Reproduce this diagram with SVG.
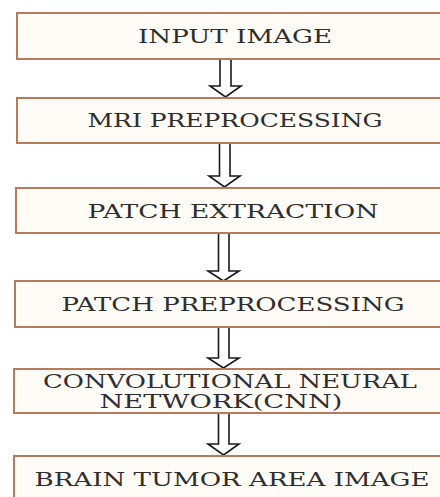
<svg xmlns="http://www.w3.org/2000/svg" width="440" height="497" viewBox="0 0 440 497">
<style>
.box{fill:#fffbf7;stroke:#b97a5c;stroke-width:2}
.t{font-family:"DejaVu Serif","Liberation Serif",serif;fill:#2e2e2e;text-anchor:middle;font-size:18.5px}
.arr{fill:#ffffff;stroke:#1a1a1a;stroke-width:1.6;stroke-linejoin:miter}
</style>
<rect width="440" height="497" fill="#ffffff"/>
<g id="connectors">
<path class="arr" d="M220,60 V86 H210 L225.5,97 L241,86 H231 V60"/>
<path class="arr" d="M219.5,144 V176 H209 L224.5,187 L240,176 H230 V144"/>
<path class="arr" d="M218.5,234 V271 H208 L223.5,281 L239,271 H229 V234"/>
<path class="arr" d="M218.5,328 V358 H208 L223.5,368 L239,358 H229 V328"/>
<path class="arr" d="M218.5,414 V444 H208 L223.5,455 L239,444 H229 V414"/>
</g>
<g id="n1"><rect class="box" x="17" y="13" width="440" height="46"/><text class="t" x="235" y="43" font-size="16.5" textLength="194" lengthAdjust="spacingAndGlyphs">INPUT IMAGE</text></g>
<g id="n2"><rect class="box" x="17" y="98" width="440" height="45"/><text class="t" x="235" y="127" textLength="295" lengthAdjust="spacingAndGlyphs">MRI PREPROCESSING</text></g>
<g id="n3"><rect class="box" x="16" y="188" width="440" height="45"/><text class="t" x="233" y="218" textLength="291" lengthAdjust="spacingAndGlyphs">PATCH EXTRACTION</text></g>
<g id="n4"><rect class="box" x="15" y="281" width="440" height="46"/><text class="t" x="233" y="311" textLength="343" lengthAdjust="spacingAndGlyphs">PATCH PREPROCESSING</text></g>
<g id="n5"><rect class="box" x="14" y="369" width="440" height="44"/><text class="t" x="230" y="388" textLength="374" lengthAdjust="spacingAndGlyphs">CONVOLUTIONAL NEURAL</text><text class="t" x="221" y="408" textLength="243" lengthAdjust="spacingAndGlyphs">NETWORK(CNN)</text></g>
<g id="n6"><rect class="box" x="14" y="456" width="440" height="60"/><text class="t" x="232" y="486" textLength="395" lengthAdjust="spacingAndGlyphs">BRAIN TUMOR AREA IMAGE</text></g>
</svg>
